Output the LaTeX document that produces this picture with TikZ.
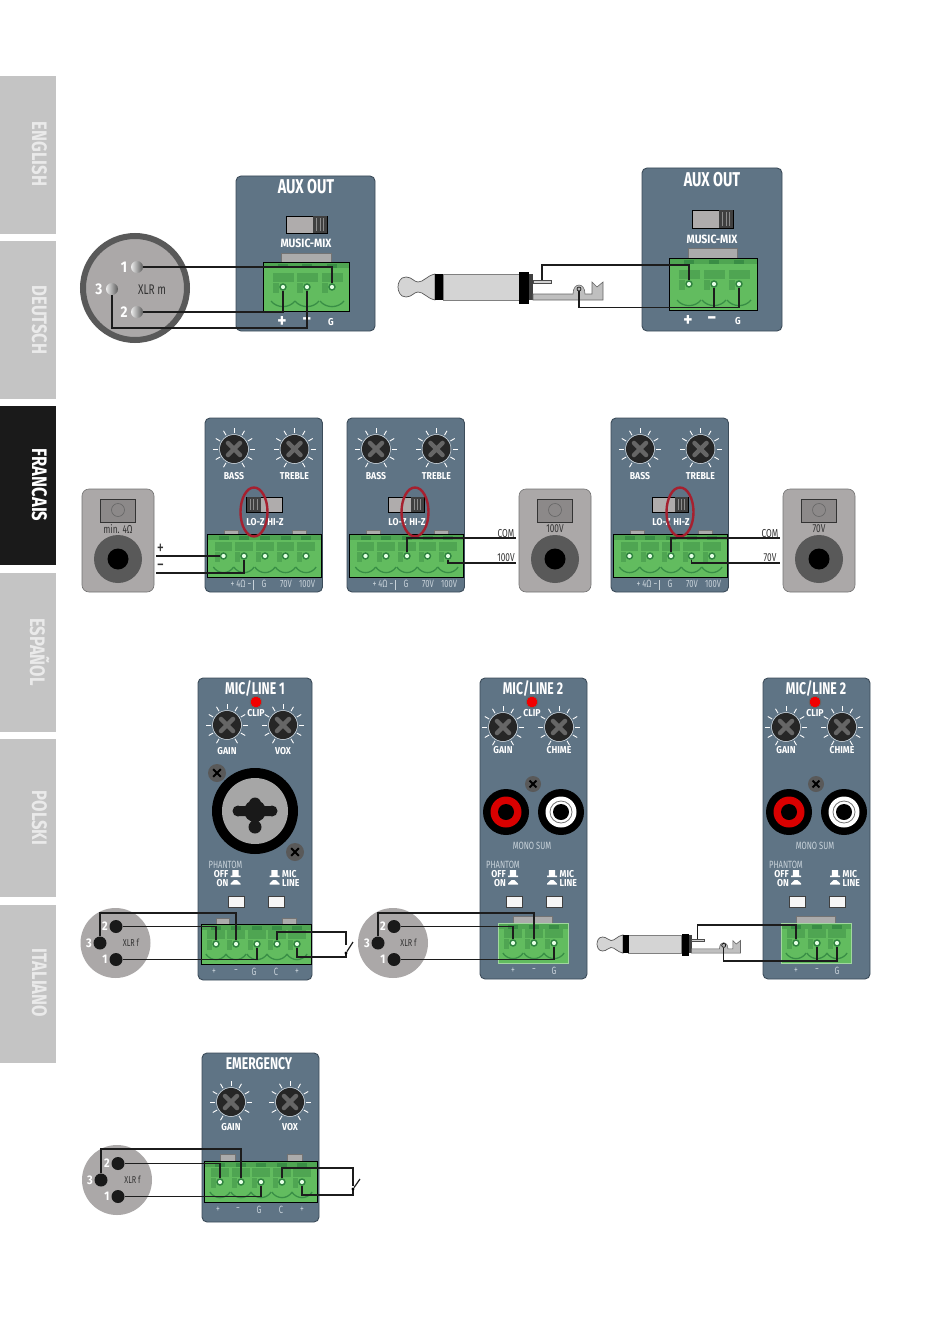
\documentclass[tikz,border=0pt]{standalone}
\usepackage{fontspec}
\setmainfont{Fira Sans}
\newfontfamily\cond[FakeStretch=0.72]{Fira Sans}
\newfontfamily\condw[FakeStretch=0.87]{Fira Sans}
\newfontfamily\condt[FakeStretch=0.79]{Fira Sans}
\definecolor{panelc}{HTML}{5F7485}
\definecolor{paneled}{HTML}{3C4C5A}
\definecolor{tabc}{HTML}{C4C4C4}
\definecolor{tabd}{HTML}{1A1A1A}
\definecolor{tabt}{HTML}{EAEAEA}
\definecolor{gbase}{HTML}{62BC5F}
\definecolor{gmid}{HTML}{4FA552}
\definecolor{gdark}{HTML}{2F8240}
\definecolor{wirec}{HTML}{1C1C1C}
\definecolor{greyb}{HTML}{ABA8A8}
\definecolor{greyd}{HTML}{8C8989}
\definecolor{redell}{HTML}{A6202F}
\definecolor{sublab}{HTML}{C9D3DA}
\newcounter{tcnt}
\newcommand\tx[4][]{\stepcounter{tcnt}\node[#1] (t\arabic{tcnt}) at (#2,#3) {#4};}
\tikzset{
  wire/.style={draw=wirec,line width=1.2pt},
  wirethick/.style={draw=wirec,line width=1.6pt},
  lab/.style={inner sep=0pt,text=white,font=\condw\bfseries\fontsize{10}{10}\selectfont},
  lablarge/.style={inner sep=0pt,text=white,font=\condw\bfseries\fontsize{12}{12}\selectfont},
  signbig/.style={inner sep=0pt,text=white,font=\condw\bfseries\fontsize{20}{20}\selectfont},
  sublabel/.style={inner sep=0pt,text=sublab,font=\cond\fontsize{10.5}{10.5}\selectfont},
  titlebig/.style={inner sep=0pt,text=white,font=\cond\bfseries\fontsize{20}{20}\selectfont},
  titlesm/.style={inner sep=0pt,text=white,font=\cond\bfseries\fontsize{17}{17}\selectfont},
  darklab/.style={inner sep=0pt,text=black!80,font=\cond\fontsize{11.5}{11.5}\selectfont},
  pinnum/.style={inner sep=0pt,text=white,font=\condw\bfseries\fontsize{12.5}{12.5}\selectfont},
  pinnumbig/.style={inner sep=0pt,text=white,font=\condw\bfseries\fontsize{15.5}{15.5}\selectfont},
  screwdot/.style={circle,inner sep=0pt,minimum size=6pt,fill=white!90!green,draw=gdark,line width=1.4pt},
  pinblack/.style={circle,inner sep=0pt,minimum size=13pt,fill=black!90},
  pinmetal/.style={circle,inner sep=0pt,minimum size=12pt,left color=white!85!gray,right color=black!65},
  tabtext/.style={inner sep=0pt,rotate=-90,font=\condt\bfseries\fontsize{21}{21}\selectfont},
}
\newcommand\panelbox[4]{\draw[fill=panelc,draw=paneled,line width=0.9pt,rounded corners=5pt] (#1,#2) rectangle (#3,#4);}
\newcommand\knob[2]{%
  \begin{scope}[shift={(#1,#2)}]
  \foreach \a in {-60,-30,...,240}{\draw[white,line width=0.9pt] (\a:16pt) -- (\a:21pt);}
  \fill[black!85] (0,0) circle (14pt);
  \draw[white!75!panelc,line width=0.5pt] (0,0) circle (14.5pt);
  \draw[black!60,line width=4.5pt,line cap=round] (45:8.5pt) -- (225:8.5pt) (135:8.5pt) -- (-45:8.5pt);
  \end{scope}}
\newcommand\hatoff[2]{\fill[white] ({#1-5},{#2+2.5}) rectangle ({#1+5},{#2+4}) ({#1-3.2},{#2-3}) rectangle ({#1+3.2},{#2+2.5});}
\newcommand\haton[2]{\fill[white] ({#1-5},{#2+2.5}) -- ({#1-3},{#2+0.5}) -- ({#1-1.5},{#2-0.8}) -- ({#1+1.5},{#2-0.8}) -- ({#1+3},{#2+0.5}) -- ({#1+5},{#2+2.5}) -- ({#1+5},{#2+3.5}) -- ({#1-5},{#2+3.5}) -- cycle;}
\newcommand\mountscrew[3]{\begin{scope}[shift={(#1,#2)}]
  \fill[black!65] (0,0) circle (#3pt);
  \draw[black,line width=2pt] (45:#3*0.6pt) -- (225:#3*0.6pt) (135:#3*0.6pt) -- (-45:#3*0.6pt);
  \end{scope}}
% name, x1,y1,x2,y2, screw y, half pitch, screw list
\newcommand\termblock[8]{%
  \fill[gbase] (#2,#3) rectangle (#4,#5);
  \fill[gmid] (#2,#3) rectangle (#4,{#3+6});
  \foreach \sx [count=\i] in {#8}{%
    \fill[gdark!70!gmid] ({\sx-5},{#3+2}) rectangle ({\sx+5},{#3+6});
    \fill[gmid] ({\sx-#7+1.5},{#6-14}) rectangle ({\sx+#7-1.5},{#6-5});
    \fill[gmid] ({\sx-#7+1.5},{#6-4}) rectangle ({\sx-4},{#6+6});
    \draw[gdark!80!gbase,line width=1.3pt] ({\sx-#7},{#5-10}) .. controls ({\sx-#7*0.5},{#5-2.5}) and ({\sx+#7*0.5},{#5-2.5}) .. ({\sx+#7},{#5-10});
    \node[screwdot] (#1s\i) at (\sx,#6) {};
  }
  \draw[black,line width=0.9pt] (#2,#3) rectangle (#4,#5);
}
\newcommand\tabrect[4]{\draw[fill=black!33,draw=black!55,line width=0.5pt] (#1,#2) rectangle (#3,#4);}
\newcommand\switchbox[6]{% x1 y1 x2 y2 kx1 kx2
  \draw[fill=greyb!95!white,draw=black,line width=0.9pt] (#1,#2) rectangle (#3,#4);
  \fill[black!75] (#5,#2) rectangle (#6,#4);
  \foreach \k in {0.25,0.5,0.75}{\draw[black!45,line width=0.6pt] ({#5+(#6-#5)*\k},{#2+2}) -- ({#5+(#6-#5)*\k},{#4-2});}
}
\newcommand\spkpanel[5]{% name x0 knobx1 knobx2 ellipsex
  \begin{scope}[shift={(#2,0)}]
  \panelbox{0}{418}{117.5}{592}
  \knob{29}{449}\knob{89.5}{449}
  \tx[lab]{29}{476}{BASS}\tx[lab]{89.5}{476}{TREBLE}
  \switchbox{41.5}{497}{77}{512}{#3}{#4}
  \tx[lab]{50.5}{522}{LO-Z}\tx[lab]{70.5}{522}{HI-Z}
  \tabrect{19}{530}{33}{534}\tabrect{87}{530}{101}{534}
  \termblock{#1}{2.5}{534}{116}{577}{556}{10.2}{18.5,39,60,80.5,101}
  \tx[sublabel]{36}{584}{+ 4Ω −}
  \draw[sublab,line width=0.8pt] (48,580) -- (48,590);
  \tx[sublabel]{59}{584}{G}\tx[sublabel]{81}{584}{70V}\tx[sublabel]{102}{584}{100V}
  \draw[redell,line width=2.4pt] (#5,512) ellipse [x radius=13.5pt,y radius=24.5pt];
  \end{scope}}
\newcommand\spkbox[2]{% x0 label
  \begin{scope}[shift={(#1,0)}]
  \draw[fill=greyb,draw=black!55,line width=0.6pt,rounded corners=7pt] (0,489) rectangle (72,592);
  \draw[fill=greyd,draw=black!80,line width=0.7pt] (18.5,499) rectangle (53,522);
  \draw[black!60,line width=0.6pt] (36,510) circle (6.5pt);
  \fill[black!65] (36,559) circle (24pt);
  \fill[black] (36,559) circle (10.5pt);
  \tx[darklab]{36}{529}{#2}
  \end{scope}}
\newcommand\phantomsec[1]{%
  \begin{scope}[shift={(#1,0)}]
  \tx[sublabel]{503}{865}{PHANTOM}
  \tx[lab,anchor=east]{506}{874}{OFF}\tx[lab,anchor=east]{506}{883}{ON}
  \hatoff{513}{873}\haton{513}{881}
  \hatoff{552}{873}\haton{552}{881}
  \tx[lab,anchor=west]{559.5}{874}{MIC}\tx[lab,anchor=west]{559.5}{883}{LINE}
  \draw[fill=white!93!gray,draw=black!75,line width=1pt] (506,896) rectangle (522,907);
  \draw[fill=white!93!gray,draw=black!75,line width=1pt] (546,896) rectangle (562,907);
  \end{scope}}
\newcommand\micpaneltwo[2]{% name shift
  \begin{scope}[shift={(#2,0)}]
  \panelbox{480}{678}{587}{979}
  \tx[titlesm]{533}{689}{MIC/LINE 2}
  \fill[red!95!black] (532,702) circle (5.5pt);
  \draw[black!60,line width=0.8pt] (532,702) circle (5.8pt);
  \tx[lab]{532}{713}{CLIP}
  \knob{503}{727}\knob{559}{727}
  \tx[lab]{503}{750}{GAIN}\tx[lab]{559}{750}{CHIME}
  \mountscrew{533}{784}{8}
  \fill[black] (506,812) circle (23pt);
  \fill[red!85!black] (506,812) circle (15.5pt);
  \fill[black] (506,812) circle (8pt);
  \fill[black] (561,812) circle (23pt);
  \fill[white] (561,812) circle (15.5pt);
  \draw[black!55,line width=0.8pt] (561,812) circle (11pt);
  \fill[black] (561,812) circle (8pt);
  \tx[sublabel]{532}{846}{MONO SUM}
  \tabrect{513}{916}{552}{923}
  \termblock{#1}{498}{923}{568}{963}{943}{10.2}{513,534,554}
  \draw[gbase!60!white,line width=0.7pt] (498,923) rectangle (568,963);
  \tx[sublabel]{513}{971}{+}\tx[sublabel]{534}{971}{−}\tx[sublabel]{554}{971}{G}
  \end{scope}
  \phantomsec{#2}}
\newcommand\xlrf[6]{% name cx cy  x2 x3 yoffset
  \fill[greyb] (#2,#3) circle (35pt);
  \node[pinblack] (#1two) at (#4,{#3-#6}) {};
  \node[pinblack] (#1three) at (#5,#3) {};
  \node[pinblack] (#1one) at (#4,{#3+#6}) {};
  \tx[pinnum]{{#4-11}}{{#3-#6}}{2}
  \tx[pinnum]{{#5-11}}{#3}{3}
  \tx[pinnum]{{#4-11}}{{#3+#6}}{1}
  \tx[darklab,font=\cond\fontsize{10}{10}\selectfont]{{#2+15.5}}{#3}{XLR f}}
\newcommand\jackplug[4]{% name x y scale
  \begin{scope}[shift={(#2,#3)},x=#4pt,y=-#4pt]
  \draw[fill=black!17,draw=black!65,line width=0.7pt] (37,-13) .. controls (28,-11) and (26,-5) .. (20,-5) .. controls (16,-5) and (14,-10) .. (8,-10) .. controls (2,-10) and (0,-4) .. (0,0) .. controls (0,4) and (2,10) .. (8,10) .. controls (14,10) and (16,5) .. (20,5) .. controls (26,5) and (28,11) .. (37,13) -- cycle;
  \draw[fill=black!17,draw=black!50,line width=0.5pt] (45,-13) rectangle (121,13);
  \fill[black] (37,-13) rectangle (45,13);
  \fill[black] (121,-15) rectangle (131,17);
  \fill[black!75] (131,-13) rectangle (135,13);
  \draw[fill=black!18,draw=black!70,line width=0.5pt] (135,-7) rectangle (153,-4);
  \draw[fill=black!25,draw=black!60,line width=0.6pt] (135,7) -- (175,7) .. controls (175,-5) and (187,-5) .. (187,7) -- (194,7) -- (194,-5) -- (199,0) -- (205,-5) -- (205,13) -- (135,13) -- cycle;
  \node[circle,inner sep=0pt,minimum size=4pt,draw=black,fill=black!30,line width=0.6pt] (#1lug) at (181,2) {};
  \coordinate (#1tab) at (144,-7);
  \end{scope}}
\begin{document}
\begin{tikzpicture}[x=1pt,y=-1pt,line join=miter]
\useasboundingbox (0,0) rectangle (950,1332);
\fill[white] (0,0) rectangle (950,1332);
% language tabs
\fill[tabc] (0,76) rectangle (56,234);
\fill[tabc] (0,241) rectangle (56,399);
\fill[tabd] (0,406) rectangle (56,565);
\fill[tabc] (0,573) rectangle (56,732);
\fill[tabc] (0,739) rectangle (56,897);
\fill[tabc] (0,905) rectangle (56,1063);
\tx[tabtext,text=tabt]{39.5}{154}{ENGLISH}
\tx[tabtext,text=tabt]{39.5}{320}{DEUTSCH}
\tx[tabtext,text=white]{39.5}{485}{FRANCAIS}
\tx[tabtext,text=tabt]{39.5}{652}{ESPAÑOL}
\tx[tabtext,text=tabt]{39.5}{818}{POLSKI}
\tx[tabtext,text=tabt]{39.5}{983}{ITALIANO}
% --- row 1 : XLR m to AUX OUT
\panelbox{236}{176}{375}{331}
\tx[titlebig]{306}{187}{AUX OUT}
\switchbox{286}{216}{327}{233}{313}{327}
\tx[lablarge]{306}{243}{MUSIC-MIX}
\tabrect{281}{253}{331}{262}
\termblock{axa}{263}{262}{349}{311}{287}{12}{283,307,332}
\tx[signbig]{282}{322}{+}
\tx[signbig]{307}{322}{−}
\tx[lab]{331}{322}{G}
\draw[draw=black!65,fill=greyb,line width=6pt] (135,288) circle (52pt);
\node[pinmetal] (xmone) at (137,267) {};
\node[pinmetal] (xmtwo) at (137,312) {};
\node[pinmetal] (xmthree) at (112,289) {};
\tx[pinnumbig]{124}{267}{1}
\tx[pinnumbig]{124}{312}{2}
\tx[pinnumbig]{99}{289}{3}
\tx[darklab,font=\cond\fontsize{14}{14}\selectfont]{152}{290}{XLR m}
\coordinate (xmbus) at (200,328);
\draw[wirethick] (xmone) -| (axas3);
\draw[wirethick] (xmtwo) -| (axas1);
\draw[wirethick] (xmthree) |- (xmbus) -| (axas2);
% --- row 1 : jack to AUX OUT
\panelbox{642}{168}{782}{331}
\tx[titlebig]{712}{180}{AUX OUT}
\switchbox{692}{210}{733}{228}{719}{733}
\tx[lablarge]{712}{239}{MUSIC-MIX}
\tabrect{688}{248}{737}{258}
\termblock{axb}{669}{258}{757}{310}{284}{12}{689,714,739}
\tx[signbig]{688}{321}{+}
\tx[signbig]{712}{321}{−}
\tx[lab]{738}{321}{G}
\jackplug{ja}{398}{287}{1}
\coordinate (jatop) at (600,265);
\coordinate (jabot) at (650,307.5);
\draw[wirethick] (jatab) |- (jatop) -| (axbs1);
\draw[wirethick] (jalug) |- (jabot) -| (axbs3);
\draw[wirethick] (axbs2) -- (axbs2 |- jabot);
% --- row 2
\spkpanel{spa}{205}{41.5}{55.5}{49}
\spkpanel{spb}{347}{64}{77}{68}
\spkpanel{spc}{611}{64}{77}{69}
\spkbox{82}{min. 4Ω}
\spkbox{519}{100V}
\spkbox{783}{70V}
\coordinate (pluswire) at (156,556);
\coordinate (minuswire) at (156,573);
\draw[wire] (pluswire) -- (spas1);
\draw[wire] (minuswire) -| (spas2);
\tx[darklab,font=\cond\fontsize{20}{20}\selectfont]{160.5}{549}{+}
\tx[darklab,font=\cond\fontsize{20}{20}\selectfont]{160.5}{568}{−}
\coordinate (comb) at (516,538);
\coordinate (hvb) at (516,563);
\draw[wire] (spbs3) |- (comb);
\draw[wire] (spbs5) |- (hvb);
\tx[darklab]{506}{534}{COM}
\tx[darklab]{506}{558}{100V}
\coordinate (comc) at (780,538);
\coordinate (hvc) at (780,563);
\draw[wire] (spcs3) |- (comc);
\draw[wire] (spcs4) |- (hvc);
\tx[darklab]{770}{534}{COM}
\tx[darklab]{770}{558}{70V}
% --- row 3 : MIC/LINE 1
\panelbox{198}{678}{312}{980}
\tx[titlesm]{255}{689}{MIC/LINE 1}
\fill[red!95!black] (256,702) circle (5.5pt);
\draw[black!60,line width=0.8pt] (256,702) circle (5.8pt);
\tx[lab]{256}{713}{CLIP}
\knob{227}{725}\knob{283}{725}
\tx[lab]{227}{751}{GAIN}\tx[lab]{283}{751}{VOX}
\mountscrew{217}{773}{9}
\mountscrew{295}{852}{9}
\fill[black] (255,811) circle (43pt);
\fill[black!35] (255,811) circle (33pt);
\fill[black!90] (255,811) circle (11pt) (238,811) circle (5.5pt) (272,811) circle (5.5pt) (255,803.5) circle (6pt) (255,827) circle (6.5pt) (238,806) rectangle (272,816);
\phantomsec{-277.5}
\tabrect{216}{918}{229}{924}\tabrect{282}{918}{296}{924}
\termblock{mla}{201}{924}{311}{964}{944}{10.2}{216,236,257,277,297}
\tx[sublabel]{214}{972}{+}\tx[sublabel]{236}{972}{−}\tx[sublabel]{254}{972}{G}\tx[sublabel]{276}{972}{C}\tx[sublabel]{297}{972}{+}
\xlrf{xa}{115.5}{943}{116}{100}{16.5}
\coordinate (xaup) at (170,913);
\coordinate (swat) at (346,945);
\coordinate (swab) at (346,953);
\coordinate (swatop) at (300,932);
\coordinate (swabot) at (320,957);
\draw[wire] (xatwo) -| (mlas1);
\draw[wire] (xathree) |- (xaup) -| (mlas2);
\draw[wire] (xaone) -| (mlas3);
\draw[wire] (mlas4) |- (swatop) -| (swat);
\draw[wire] (mlas5) |- (swabot) -| (swab);
\node[circle,fill=black,inner sep=0pt,minimum size=3.2pt] (swadot) at (346,953) {};
\coordinate (swablade) at (353,942);
\draw[wire] (swadot) -- (swablade);
% --- MIC/LINE 2 with XLR
\micpaneltwo{mlb}{0}
\xlrf{xb}{393}{943}{394}{378}{16.5}
\coordinate (xbup) at (450,913);
\draw[wire] (xbtwo) -| (mlbs1);
\draw[wire] (xbthree) |- (xbup) -| (mlbs2);
\draw[wire] (xbone) -| (mlbs3);
% --- MIC/LINE 2 with jack
\micpaneltwo{mlc}{283}
\jackplug{jb}{597}{944}{0.7}
\coordinate (jbtop) at (750,925);
\coordinate (jbbot) at (770,961);
\draw[wire] (jbtab) |- (jbtop) -| (mlcs1);
\draw[wire] (jblug) |- (jbbot) -| (mlcs3);
\draw[wire] (mlcs2) -- (mlcs2 |- jbbot);
% --- EMERGENCY
\panelbox{202}{1053}{319}{1222}
\tx[titlesm]{259}{1064}{EMERGENCY}
\knob{231}{1102}\knob{290}{1102}
\tx[lab]{231}{1127}{GAIN}\tx[lab]{290}{1127}{VOX}
\tabrect{220}{1154}{235}{1161}\tabrect{287}{1154}{302}{1161}
\termblock{ema}{204}{1161}{317}{1202}{1182}{10.2}{220,241,261,282,302}
\tx[sublabel]{218}{1210}{+}\tx[sublabel]{238}{1210}{−}\tx[sublabel]{259}{1210}{G}\tx[sublabel]{281}{1210}{C}\tx[sublabel]{302}{1210}{+}
\xlrf{xc}{117}{1180}{118}{101}{16.5}
\coordinate (xcup) at (170,1149);
\coordinate (swct) at (353,1186);
\coordinate (swcb) at (353,1189);
\coordinate (swctop) at (320,1168);
\coordinate (swcbot) at (330,1195);
\draw[wire] (xctwo) -| (emas1);
\draw[wire] (xcthree) |- (xcup) -| (emas2);
\draw[wire] (xcone) -| (emas3);
\draw[wire] (emas4) |- (swctop) -| (swct);
\draw[wire] (emas5) |- (swcbot) -| (swcb);
\node[circle,fill=black,inner sep=0pt,minimum size=3.2pt] (swcdot) at (353,1189) {};
\coordinate (swcblade) at (360,1179);
\draw[wire] (swcdot) -- (swcblade);
\end{tikzpicture}
\end{document}
